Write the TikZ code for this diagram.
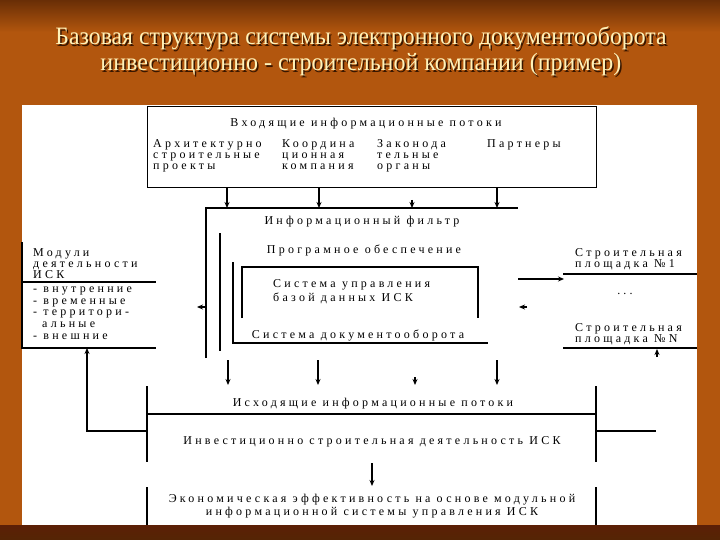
\documentclass[tikz,border=0pt]{standalone}
\usepackage{fontspec}
\setmainfont{Liberation Serif}
\newfontfamily\dfont[LetterSpace=27]{Liberation Serif}
\usetikzlibrary{arrows.meta,calc}
\definecolor{bgorange}{RGB}{178,86,14}
\definecolor{bgdark}{RGB}{105,46,6}
\definecolor{bgbottom}{RGB}{92,31,6}
\definecolor{titlecol}{RGB}{255,242,185}
\definecolor{shadowcol}{RGB}{55,22,0}
\newcommand\fs{\rule{0pt}{9pt}}
\newcommand\shtitle[2]{\rlap{\raisebox{-1.5pt}{\hspace{1.5pt}\textcolor{shadowcol}{\resizebox{#1}{\height}{#2}}}}\textcolor{titlecol}{\resizebox{#1}{\height}{#2}}}
\tikzset{
  ln/.style={line width=1.1pt, black},
  arr/.style={ln, -{Stealth[length=6pt,width=5pt]}},
  txt/.style={inner sep=0pt, font=\dfont\fontsize{12}{11}\selectfont, text=black},
  ttl/.style={inner sep=0pt, anchor=base, font=\fontsize{25}{25}\selectfont},
}
\begin{document}
\begin{tikzpicture}[x=1pt,y=-1pt]
\useasboundingbox (0,0) rectangle (720,540);
% background
\fill[bgorange] (0,0) rectangle (720,540);
\shade[top color=bgdark, bottom color=bgorange] (0,0) rectangle (720,32);
\shade[top color=bgbottom, bottom color=bgdark!80!black] (0,525) rectangle (720,540);
\fill[white] (22,105) rectangle (697,525);

% title
\node[ttl] (t1) at (361,45) {\shtitle{611pt}{Базовая структура системы электронного документооборота}};
\node[ttl] (t2) at (361,71) {\shtitle{521pt}{инвестиционно - строительной компании (пример)}};

% incoming flows box
\node[ln, draw, anchor=north west, minimum width=449pt, minimum height=81pt, inner sep=0pt] (inbox) at (147,106) {};
\node[txt, anchor=base] (intitle) at (366,127) {Входящие информационные потоки};
\node[txt, anchor=north west, align=left] (c1) at (153,138) {\fs Архитектурно\\строительные\\проекты};
\node[txt, anchor=north west, align=left] (c2) at (282,138) {\fs Координа\\ционная\\компания};
\node[txt, anchor=north west, align=left] (c3) at (377,138) {\fs Законода\\тельные\\органы};
\node[txt, anchor=north west, align=left] (c4) at (487,138) {\fs Партнеры};

% information filter
\coordinate (ftl) at (206,208);
\coordinate (ftr) at (518,208);
\coordinate (fbl) at (206,358);
\draw[ln] (fbl) -- (ftl) -- (ftr);
\coordinate (f1) at (227,208);
\coordinate (f2) at (319,208);
\coordinate (f3) at (412,208);
\coordinate (f4) at (497,208);
\draw[arr] (inbox.south -| f1) -- (f1);
\draw[arr] (inbox.south -| f2) -- (f2);
\draw[arr] ($(f3)+(0,-8)$) -- (f3);
\draw[arr] (inbox.south -| f4) -- (f4);
\node[txt, anchor=base] (filt) at (362,225) {Информационный фильтр};

% software
\coordinate (swt) at (220,233);
\coordinate (swb) at (220,351);
\draw[ln] (swt) -- (swb);
\node[txt, anchor=base] (soft) at (364,254) {Програмное обеспечение};

% document system
\coordinate (dst) at (233,262);
\coordinate (dsc) at (233,343);
\coordinate (dsr) at (488,343);
\draw[ln] (dst) -- (dsc) -- (dsr);
\node[txt, anchor=base] (docs) at (358,338) {Система документооборота};

% database box
\coordinate (db1) at (242,318);
\coordinate (db2) at (242,267);
\coordinate (db3) at (478,267);
\coordinate (db4) at (478,318);
\draw[ln] (db1) -- (db2) -- (db3) -- (db4);
\node[txt, font=\dfont\fontsize{12}{14}\selectfont, anchor=north west, align=left] (dbt) at (273,278) {\fs Система управления\\базой данных ИСК};

% left module box
\coordinate (mtl) at (22,242);
\coordinate (mbl) at (22,348);
\coordinate (mbr) at (156,348);
\coordinate (msl) at (22,282);
\coordinate (msr) at (156,282);
\draw[ln] (mtl) -- (mbl) -- (mbr);
\draw[ln] (msl) -- (msr);
\node[txt, anchor=north west, align=left] (mod) at (33,247) {\fs Модули\\деятельности\\ИСК};
\node[txt, font=\dfont\fontsize{12}{11.8}\selectfont, anchor=north west, align=left] (modl) at (33,283) {\fs - внутренние\\- временные\\- территори-\\\hspace*{9pt}альные\\- внешние};
\coordinate (fl) at (206,307);
\coordinate (flh) at (197,307);
\draw[arr] (fl) -- (flh);

% right: construction sites
\node[txt, anchor=north west, align=left] (s1) at (575,247) {\fs Строительная\\площадка №1};
\coordinate (s1a) at (563,274);
\coordinate (s1b) at (697,274);
\draw[ln] (s1a) -- (s1b);
\coordinate (fr) at (518,279);
\coordinate (s1in) at (564,279);
\draw[arr] (fr) -- (s1in);
\node[txt, anchor=base] (dots) at (625,294) {...};
\node[txt, anchor=north west, align=left] (sn) at (575,322) {\fs Строительная\\площадка №N};
\coordinate (sna) at (563,348);
\coordinate (snb) at (697,348);
\draw[ln] (sna) -- (snb);
\coordinate (snup) at (657,349);
\draw[arr] ($(snup)+(0,8)$) -- (snup);
\coordinate (rr) at (527,307);
\coordinate (rrh) at (519,307);
\draw[arr] (rr) -- (rrh);

% outgoing flows / activity
\coordinate (ol1) at (147,386);
\coordinate (ol2) at (147,462);
\coordinate (or1) at (596,386);
\coordinate (or2) at (596,462);
\draw[ln] (ol1) -- (ol2);
\draw[ln] (or1) -- (or2);
\coordinate (osl) at (147,414);
\coordinate (osr) at (596,414);
\draw[ln] (osl) -- (osr);
\node[txt, anchor=base] (outt) at (373,406) {Исходящие информационные потоки};
\node[txt, anchor=base] (inv) at (372,444) {Инвестиционно строительная деятельность ИСК};

\coordinate (o1) at (228,385);
\coordinate (o2) at (318,385);
\coordinate (o3) at (415,385);
\coordinate (o4) at (497,385);
\draw[arr] ($(o1)+(0,-25)$) -- (o1);
\draw[arr] ($(o2)+(0,-25)$) -- (o2);
\draw[arr] ($(o3)+(0,-8)$) -- (o3);
\draw[arr] ($(o4)+(0,-25)$) -- (o4);

% feedback to modules
\coordinate (invL) at (147,431);
\coordinate (modin) at (87,348);
\draw[arr] (invL) -| (modin);
\coordinate (invR) at (596,431);
\coordinate (invRe) at (656,431);
\draw[ln] (invR) -- (invRe);

% economic efficiency
\coordinate (ea) at (372,463);
\coordinate (eb) at (372,486);
\draw[arr] (ea) -- (eb);
\coordinate (el1) at (147,487);
\coordinate (el2) at (147,525);
\coordinate (er1) at (596,487);
\coordinate (er2) at (596,525);
\draw[ln] (el1) -- (el2);
\draw[ln] (er1) -- (er2);
\node[txt, font=\dfont\fontsize{12}{13}\selectfont, anchor=north, align=center] (eco) at (372,493) {\fs Экономическая эффективность на основе модульной\\информационной системы управления ИСК};
\end{tikzpicture}
\end{document}
